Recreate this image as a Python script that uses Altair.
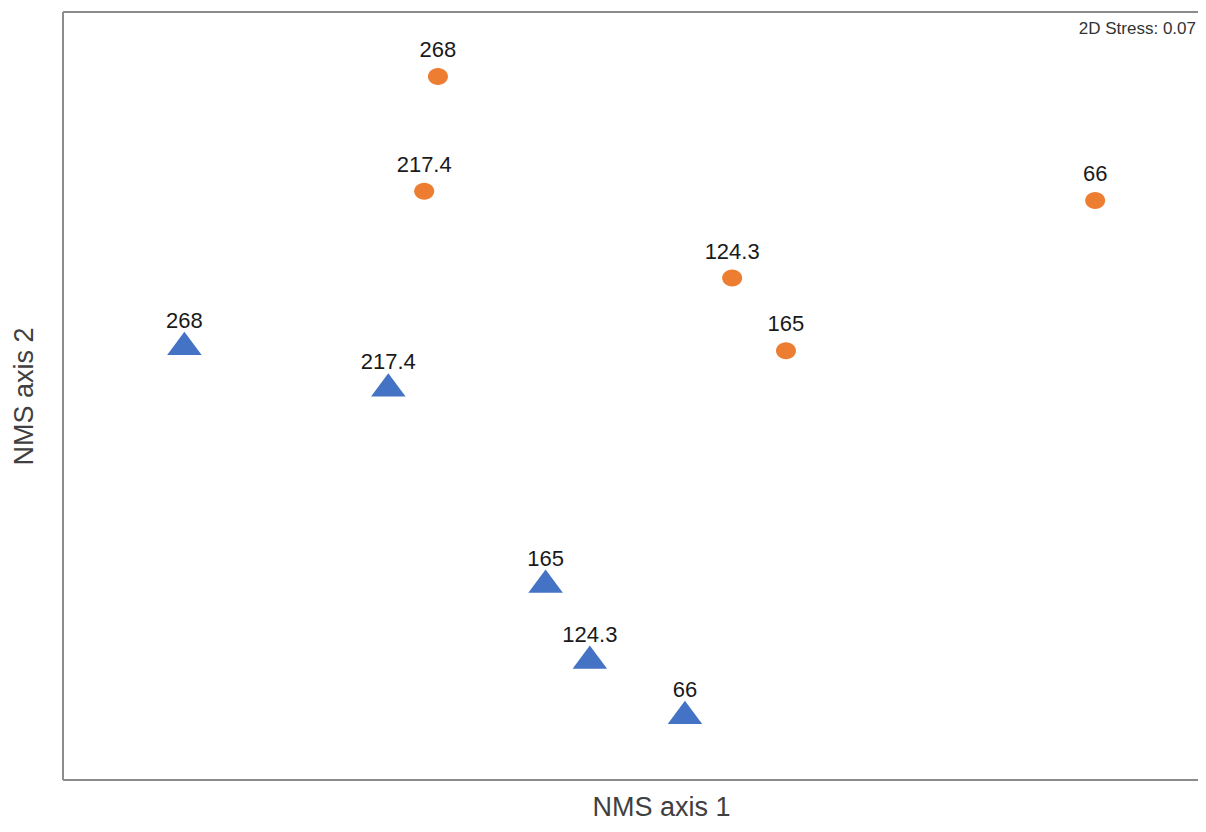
import altair as alt
import pandas as pd

# Sample labels (same order for both groups)
labels = ["268", "217.4", "165", "124.3", "66"]

# Group A (orange circles) NMS scores
a_x = [-0.373, -0.396, 0.209, 0.119, 0.726]
a_y = [0.832, 0.533, 0.118, 0.307, 0.509]

# Group B (blue triangles) NMS scores
b_x = [-0.797, -0.456, -0.193, -0.119, 0.040]
b_y = [0.137, 0.029, -0.482, -0.680, -0.824]

stress_text = "2D Stress: 0.07"

W, H = 1135, 768
FONT = "Liberation Sans"

df_a = pd.DataFrame({"x": a_x, "y": a_y, "label": labels})
df_b = pd.DataFrame({"x": b_x, "y": b_y, "label": labels})

xs = alt.Scale(domain=[-1, -1 + W / 598], nice=False, zero=False)
ys = alt.Scale(domain=[-1, 1], nice=False, zero=False)

x_enc = alt.X("x:Q", scale=xs, axis=alt.Axis(
    title="NMS axis 1", labels=False, ticks=False, domain=False, grid=False,
    titleX=598, titlePadding=14, titleFontSize=27, titleFont=FONT,
    titleFontWeight="normal", titleColor="#404040"))
y_enc = alt.Y("y:Q", scale=ys, axis=alt.Axis(
    title="NMS axis 2", labels=False, ticks=False, domain=False, grid=False,
    titlePadding=25, titleFontSize=27, titleFont=FONT,
    titleFontWeight="normal", titleColor="#404040"))

ellipse = "M-1,0A1,0.85 0 1,0 1,0A1,0.85 0 1,0 -1,0Z"
tri = "M0,-0.676L1,0.676L-1,0.676Z"

pts_a = alt.Chart(df_a).mark_point(
    shape=ellipse, filled=True, size=400, color="#ED7D31", opacity=1, strokeWidth=0
).encode(x=x_enc, y=y_enc)
lab_a = alt.Chart(df_a).mark_text(
    font=FONT, fontSize=22, color="#1a1a1a", baseline="alphabetic", align="center", dy=-19.5
).encode(x="x:Q", y="y:Q", text="label:N")

pts_b = alt.Chart(df_b).mark_point(
    shape=tri, filled=True, size=1190, color="#4472C4", opacity=1, strokeWidth=0
).encode(x="x:Q", y="y:Q")
lab_b = alt.Chart(df_b).mark_text(
    font=FONT, fontSize=22, color="#1a1a1a", baseline="alphabetic", align="center", dy=-15.5
).encode(x="x:Q", y="y:Q", text="label:N")

one = pd.DataFrame({"k": [0]})
frame_style = dict(color="#8c8c8c", strokeWidth=2)
top = alt.Chart(one).mark_rule(**frame_style).encode(x=alt.value(0), x2=alt.value(W), y=alt.value(0))
bottom = alt.Chart(one).mark_rule(**frame_style).encode(x=alt.value(0), x2=alt.value(W), y=alt.value(H))
left = alt.Chart(one).mark_rule(**frame_style).encode(x=alt.value(0), y=alt.value(0), y2=alt.value(H))

stress = alt.Chart(pd.DataFrame({"t": [stress_text]})).mark_text(
    font=FONT, fontSize=17, color="#333333", align="right", baseline="middle"
).encode(x=alt.value(W - 2), y=alt.value(17), text="t:N")

chart = alt.layer(pts_a, pts_b, lab_a, lab_b, top, bottom, left, stress).properties(
    width=W, height=H,
    autosize=alt.AutoSizeParams(type="none"),
    padding={"left": 55, "top": 4, "right": 0, "bottom": 44},
).configure_view(stroke=None)

chart.save("out.html", embed_options={"renderer": "svg", "actions": False})
